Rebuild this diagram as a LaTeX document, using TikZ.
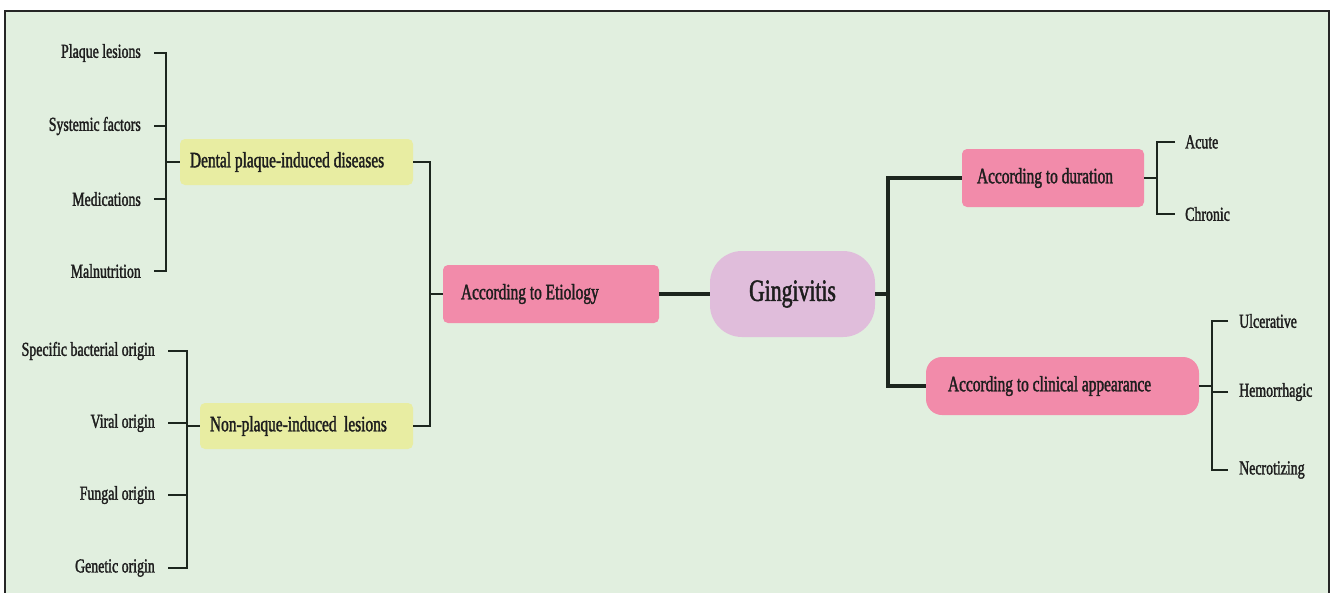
\documentclass[tikz,border=0pt]{standalone}
\usepackage{fontspec}
\setmainfont{Liberation Serif}[FakeStretch=0.7,FakeBold=1.6]
\definecolor{bg}{HTML}{E1EFDF}
\definecolor{pinkb}{HTML}{F28BAA}
\definecolor{lilac}{HTML}{E0BDDB}
\definecolor{yell}{HTML}{E8EDA2}
\definecolor{ln}{HTML}{1C261E}
\definecolor{tx}{HTML}{1E1E1E}
\tikzset{
  leaf/.style={inner sep=0pt, font=\fontsize{19.8}{22}\selectfont, text=tx},
  box/.style={inner ysep=0pt, rounded corners=5pt, text=tx, font=\fontsize{22}{26}\selectfont, align=flush left},
  conn/.style={draw=ln, line width=2.4pt},
  main/.style={draw=ln, line width=3.8pt},
}
\begin{document}
\begin{tikzpicture}[x=1pt,y=-1pt]
\useasboundingbox (0,0) rectangle (1330,592);
\clip (0,0) rectangle (1330,592);
\fill[white] (0,0) rectangle (1330,592);
\fill[bg] (5,11) rectangle (1329,600);
\draw[black!85, line width=1.6pt] (5,600) -- (5,11) -- (1329,11) -- (1329,600);

% main boxes
\node[box, fill=yell, minimum height=46, inner xsep=10pt, text width=213pt] (dental) at (296.5,162) {\mbox{Dental plaque-induced diseases}};
\node[box, fill=yell, minimum height=46, inner xsep=10pt, text width=193pt] (nonpl) at (306.5,426) {\mbox{Non-plaque-induced\, lesions}};
\node[box, fill=pinkb, minimum height=58, inner xsep=18pt, text width=180pt] (etio) at (551,294) {\mbox{According to Etiology}};
\node[fill=lilac, rounded corners=32pt, minimum width=165, minimum height=86, inner sep=0pt, text=tx, font=\fontsize{31}{34}\selectfont] (ging) at (792.5,294) {Gingivitis};
\node[box, fill=pinkb, minimum height=58, inner xsep=15pt, text width=152pt] (dur) at (1053,178) {\mbox{According to duration}};
\node[box, fill=pinkb, rounded corners=16pt, minimum height=58, inner xsep=22pt, text width=229pt] (cli) at (1062.5,386) {\mbox{According to clinical appearance}};

% left leaves, group 1
\node[leaf, anchor=east] (pl) at (141,53) {Plaque lesions};
\node[leaf, anchor=east] (sf) at (141,126) {Systemic factors};
\node[leaf, anchor=east] (med) at (141,199) {Medications};
\node[leaf, anchor=east] (mal) at (141,271) {Malnutrition};
% left leaves, group 2
\node[leaf, anchor=east] (sb) at (155,351) {Specific bacterial origin};
\node[leaf, anchor=east] (vo) at (155,423) {Viral origin};
\node[leaf, anchor=east] (fo) at (155,495) {Fungal origin};
\node[leaf, anchor=east] (go) at (155,568) {Genetic origin};
% right leaves
\node[leaf, anchor=west] (acu) at (1185,142) {Acute};
\node[leaf, anchor=west] (chr) at (1185,214) {Chronic};
\node[leaf, anchor=west] (ulc) at (1239,321) {Ulcerative};
\node[leaf, anchor=west] (hem) at (1239,392) {Hemorrhagic};
\node[leaf, anchor=west] (nec) at (1239,470) {Necrotizing};

% junction coordinates
\coordinate (lb1) at (166,162);
\coordinate (lb2) at (187,426);
\coordinate (lj) at (430,294);
\coordinate (rj) at (888,294);
\coordinate (rb1) at (1157,178);
\coordinate (rb2) at (1212,386);

% connectors
\draw[conn] ([xshift=13pt]pl.east) -| (lb1) |- ([xshift=13pt]mal.east);
\draw[conn] ([xshift=13pt]sf.east) -- (sf.east -| lb1);
\draw[conn] ([xshift=13pt]med.east) -- (med.east -| lb1);
\draw[conn] (lb1) -- (dental.west);

\draw[conn] ([xshift=13pt]sb.east) -| (lb2) |- ([xshift=13pt]go.east);
\draw[conn] ([xshift=13pt]vo.east) -- (vo.east -| lb2);
\draw[conn] ([xshift=13pt]fo.east) -- (fo.east -| lb2);
\draw[conn] (lb2) -- (nonpl.west);

\draw[conn] (dental.east) -| (lj) |- (nonpl.east);
\draw[conn] (lj) -- (etio.west);
\draw[main] (etio.east) -- (ging.west);
\draw[main] (ging.east) -- (rj);
\draw[main] (dur.west) -| (rj) |- (cli.west);

\draw[conn] (dur.east) -- (rb1);
\draw[conn] ([xshift=-10pt]acu.west) -| (rb1) |- ([xshift=-10pt]chr.west);
\draw[conn] (cli.east) -- (rb2);
\draw[conn] ([xshift=-11pt]ulc.west) -| (rb2) |- ([xshift=-11pt]nec.west);
\draw[conn] ([xshift=-11pt]hem.west) -- (hem.west -| rb2);
\end{tikzpicture}
\end{document}
